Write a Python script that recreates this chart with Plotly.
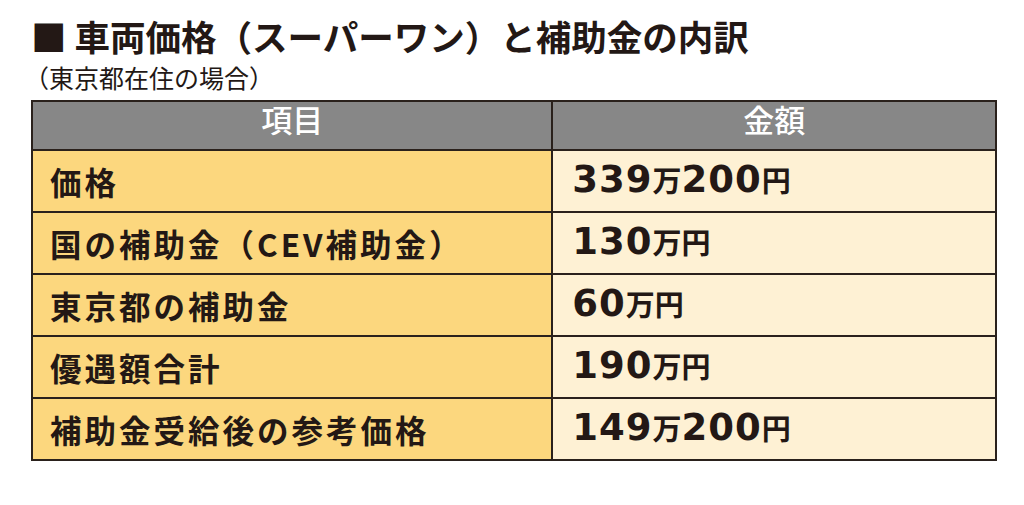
import plotly.graph_objects as go

title = "■ 車両価格（スーパーワン）と補助金の内訳"
subtitle = "（東京都在住の場合）"
header_labels = ["項目", "金額"]
items = ["価格", "国の補助金（CEV補助金）", "東京都の補助金", "優遇額合計", "補助金受給後の参考価格"]
man_values = ["339", "130", "60", "190", "149"]
yen_values = ["200", "", "", "", "200"]

# a trailing <br> switches off the table's word-wrapping, which would otherwise split the tags
KANJI = '<span style="font-size:29px">'
DIG = '<span style="letter-spacing:1px">'
ITEM = '<span style="font-size:31.5px;letter-spacing:3px">'
PAD = "&nbsp;"
END = "<br>"

def fmt_amount(m, y):
    s = PAD + f"{DIG}<b>{m}</b></span>{KANJI}<b>万</b></span>"
    if y:
        s += f"{DIG}<b>{y}</b></span>"
    s += f"{KANJI}<b>円</b></span>"
    return s + END

amounts = [fmt_amount(m, y) for m, y in zip(man_values, yen_values)]
item_cells = [f"{ITEM}{PAD}<b>{t}</b></span>" + END for t in items]

W, H = 1008, 489   # page body has an 8px margin
OFF = 8
def px(x):
    return (x - OFF) / W
def py(y):
    return 1 - (y - OFF) / H

fig = go.Figure(go.Table(
    domain=dict(x=[px(32), px(997)], y=[py(461), py(101)]),
    columnwidth=[521, 444],
    header=dict(
        values=header_labels,
        fill_color="#878787",
        line=dict(color="#2a211c", width=2),
        font=dict(color="white", size=31, family="Noto Sans CJK JP", weight=500),
        align="center",
        height=49,
    ),
    cells=dict(
        values=[item_cells, amounts],
        fill_color=[["#fcd77e"] * 5, ["#fef1d4"] * 5],
        line=dict(color="#2a211c", width=2),
        font=dict(color="#231815", size=[30, 37],
                  family=["Noto Sans CJK JP", "DejaVu Sans, Noto Sans CJK JP"]),
        align="left",
        height=62,
    ),
))

fig.add_annotation(text=f"<b>{title}</b>", x=px(29), y=py(35), xref="paper", yref="paper",
                   xanchor="left", yanchor="middle", showarrow=False,
                   font=dict(size=35.5, color="#231815", family="Noto Sans CJK JP"))
fig.add_annotation(text=subtitle, x=px(22), y=py(77), xref="paper", yref="paper",
                   xanchor="left", yanchor="middle", showarrow=False,
                   font=dict(size=25, color="#231815", family="Noto Sans CJK JP"))

fig.update_layout(width=W, height=H, margin=dict(l=0, r=0, t=0, b=0),
                  paper_bgcolor="white", plot_bgcolor="white")
fig.write_html("out.html")
